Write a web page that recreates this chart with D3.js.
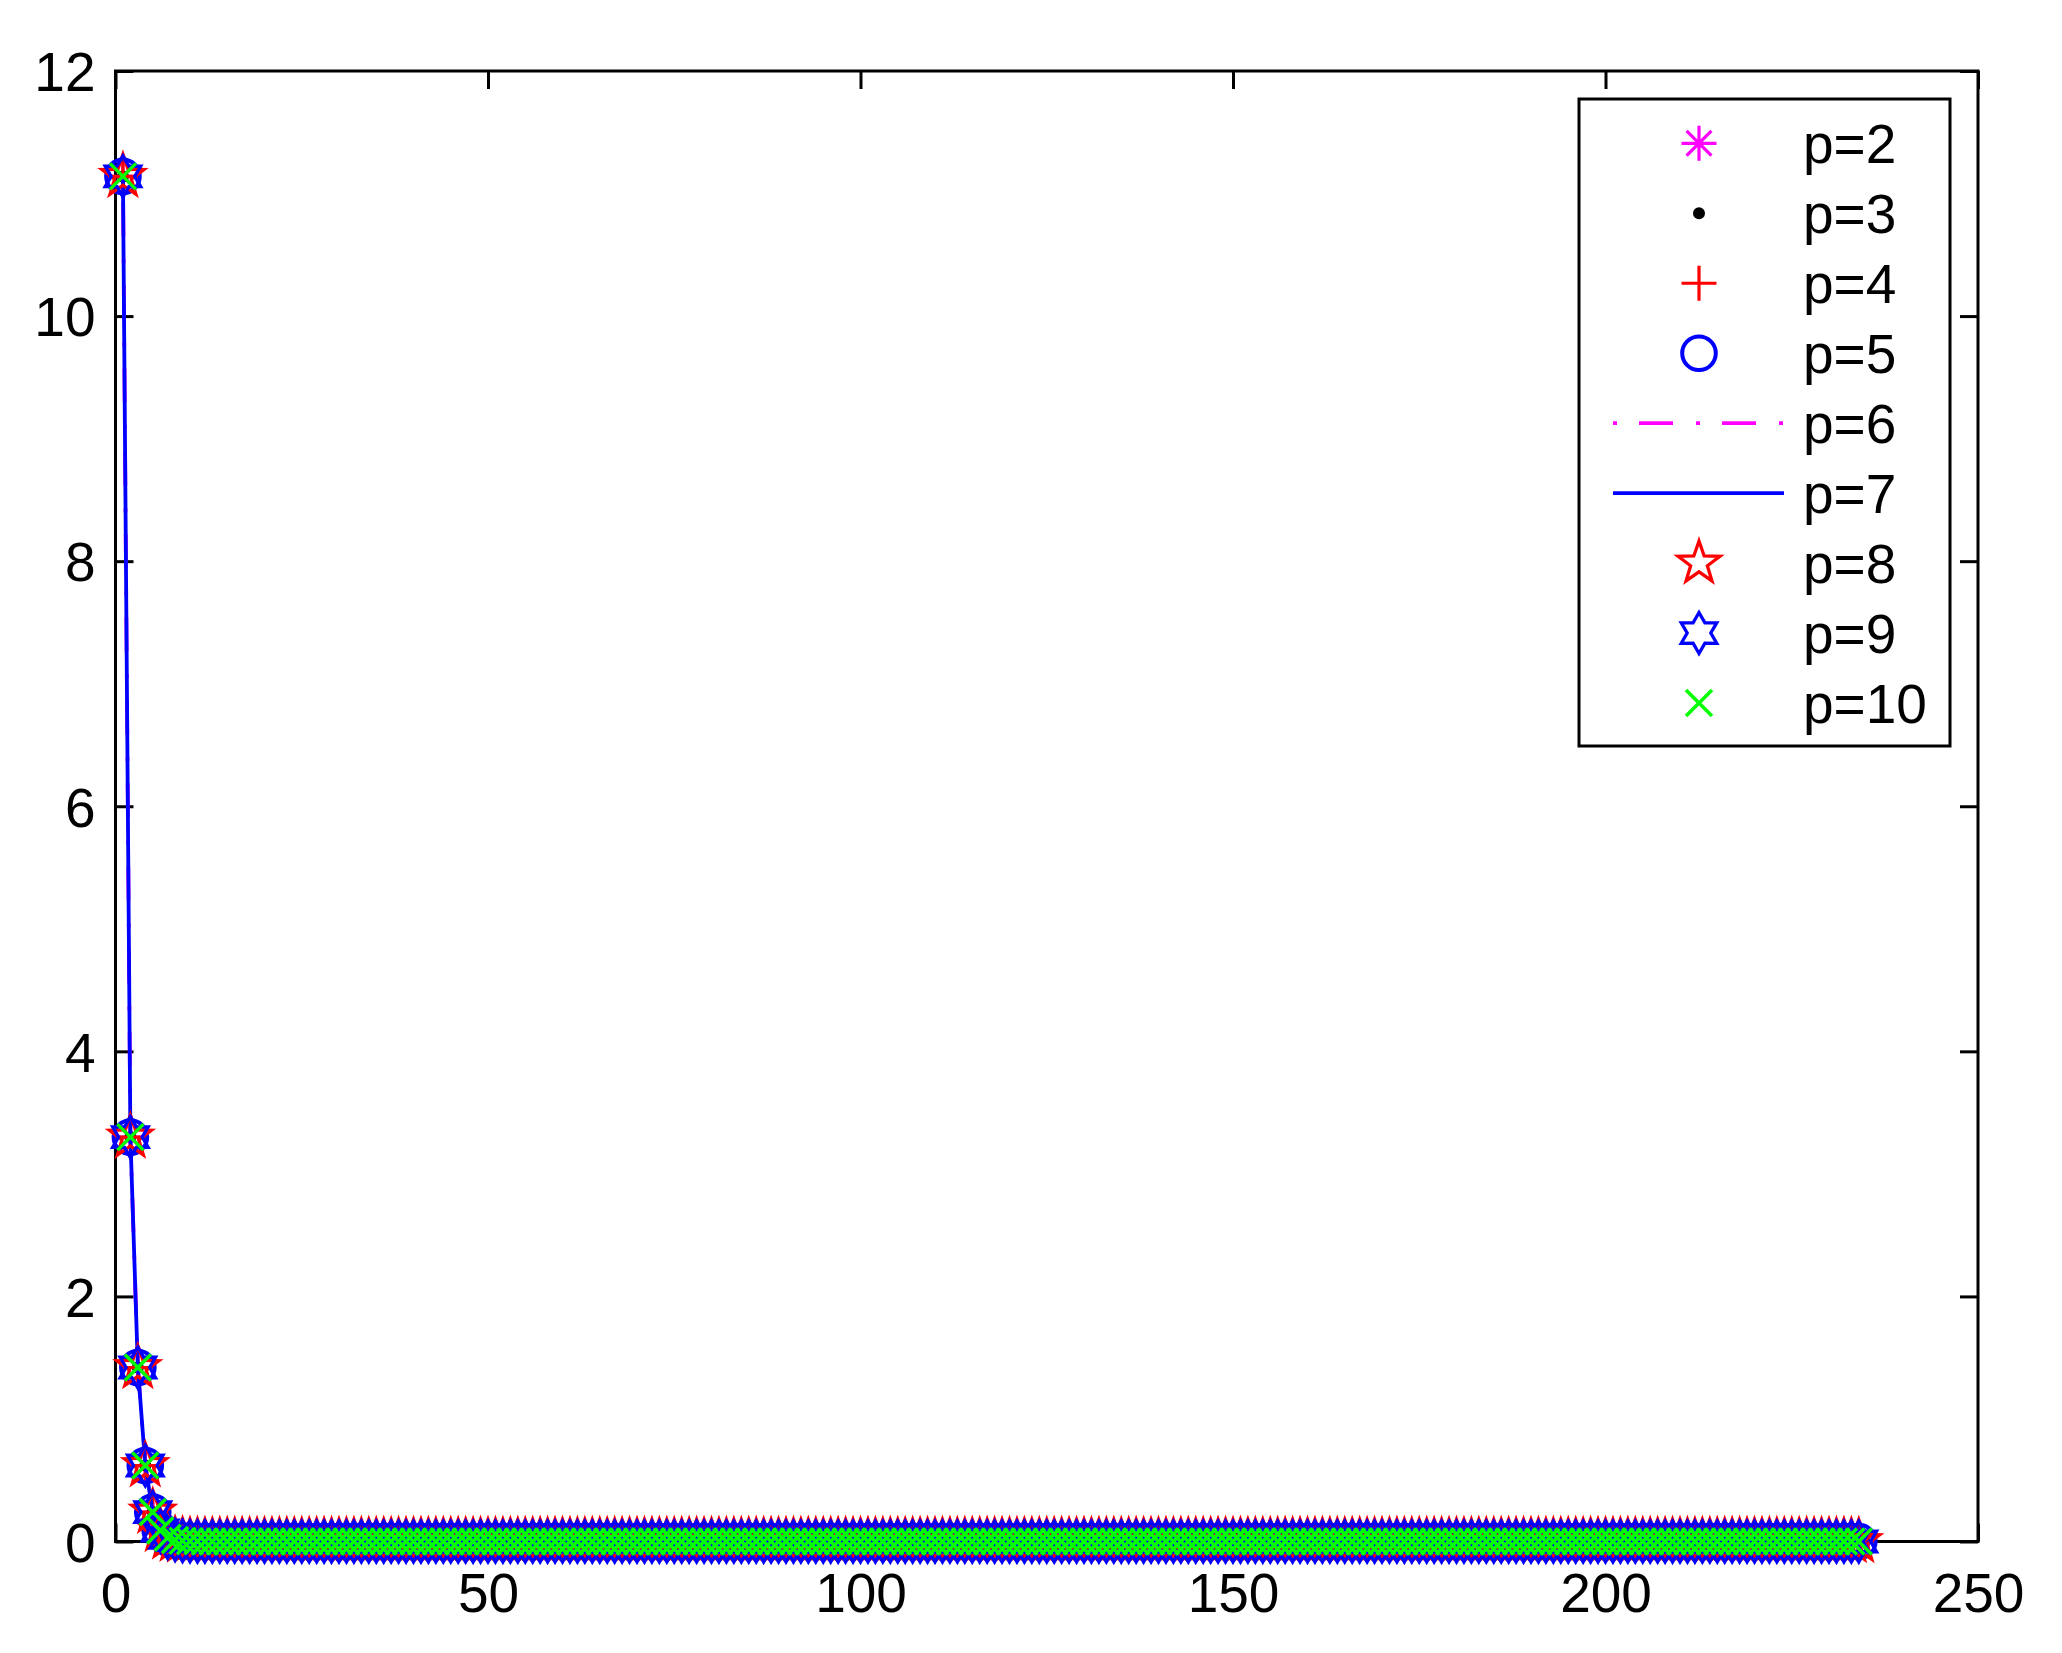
<!DOCTYPE html>
<html>
<head>
<meta charset="utf-8">
<script src="https://cdn.jsdelivr.net/npm/d3@7"></script>
<style>
  html, body { margin: 0; padding: 0; background: #fff; }
  svg { display: block; }
  text { font-family: "Liberation Sans", Arial, Helvetica, sans-serif; fill: #000; }
</style>
</head>
<body>
<svg id="chart" width="2062" height="1653"></svg>
<script>
// ---------------- data ----------------
const xTicks = [0, 50, 100, 150, 200, 250];
const yTicks = [0, 2, 4, 6, 8, 10, 12];
const seriesLabels = ["p=2", "p=3", "p=4", "p=5", "p=6", "p=7", "p=8", "p=9", "p=10"];

// error per iteration (iterations 1..234); all p-curves coincide visually
const residual = [
  11.14, 3.30, 1.42, 0.62, 0.24, 0.09, 0.03, 0.012, 0.005, 0.002, 0.001, 0.0005,
  0,0,0,0,0,0,0,0,0,0,0,0,0,0,0,0,0,0,0,0,
  0,0,0,0,0,0,0,0,0,0,0,0,0,0,0,0,0,0,0,0,
  0,0,0,0,0,0,0,0,0,0,0,0,0,0,0,0,0,0,0,0,
  0,0,0,0,0,0,0,0,0,0,0,0,0,0,0,0,0,0,0,0,
  0,0,0,0,0,0,0,0,0,0,0,0,0,0,0,0,0,0,0,0,
  0,0,0,0,0,0,0,0,0,0,0,0,0,0,0,0,0,0,0,0,
  0,0,0,0,0,0,0,0,0,0,0,0,0,0,0,0,0,0,0,0,
  0,0,0,0,0,0,0,0,0,0,0,0,0,0,0,0,0,0,0,0,
  0,0,0,0,0,0,0,0,0,0,0,0,0,0,0,0,0,0,0,0,
  0,0,0,0,0,0,0,0,0,0,0,0,0,0,0,0,0,0,0,0,
  0,0,0,0,0,0,0,0,0,0,0,0,0,0,0,0,0,0,0,0,
  0,0
];
const seriesValues = seriesLabels.map(() => residual);

// ---------------- styles ----------------
const MAG = "#ff00ff", BLUE = "#0000ff", RED = "#ff0000", GREEN = "#00ff00", BLACK = "#000000";
const styles = [
  { color: MAG,   marker: "asterisk", line: null },
  { color: BLACK, marker: "dot",      line: null },
  { color: RED,   marker: "plus",     line: null },
  { color: BLUE,  marker: "circle",   line: null },
  { color: MAG,   marker: null,       line: "4,22,34,23" },
  { color: BLUE,  marker: null,       line: "solid" },
  { color: RED,   marker: "pentagram", line: null },
  { color: BLUE,  marker: "hexagram", line: null },
  { color: GREEN, marker: "x",        line: null }
];

function starPath(n, R, r, rot) {
  const pts = [];
  for (let i = 0; i < 2 * n; i++) {
    const rad = i % 2 === 0 ? R : r;
    const a = rot + i * Math.PI / n;
    pts.push([rad * Math.cos(a), rad * Math.sin(a)]);
  }
  return "M" + pts.map(p => p[0].toFixed(2) + "," + p[1].toFixed(2)).join("L") + "Z";
}
const markerDefs = {
  asterisk: (() => { const r = 17.5, a = 12.4;
    return { d: `M${-r},0H${r}M0,${-r}V${r}M${-a},${-a}L${a},${a}M${-a},${a}L${a},${-a}`, fill: false, w: 3.2 }; })(),
  plus: (() => { const r = 17.5; return { d: `M${-r},0H${r}M0,${-r}V${r}`, fill: false, w: 3.2 }; })(),
  x: (() => { const a = 13; return { d: `M${-a},${-a}L${a},${a}M${-a},${a}L${a},${-a}`, fill: false, w: 3.5 }; })(),
  circle: { d: d3.arc()({ innerRadius: 0, outerRadius: 16.8, startAngle: 0, endAngle: 2 * Math.PI }), fill: false, w: 4 },
  dot: { d: d3.arc()({ innerRadius: 0, outerRadius: 6, startAngle: 0, endAngle: 2 * Math.PI }), fill: true, w: 0 },
  pentagram: { d: starPath(5, 22, 8.8, -Math.PI / 2), fill: false, w: 3.3 },
  hexagram: { d: starPath(6, 20.5, 11.8, -Math.PI / 2), fill: false, w: 3.3 }
};

// ---------------- layout ----------------
const svg = d3.select("#chart");
const X0 = 115.5, X1 = 1978, Y0 = 1541.5, Y1 = 71;
const x = d3.scaleLinear().domain([0, 250]).range([X0, X1]);
const y = d3.scaleLinear().domain([0, 12]).range([Y0, Y1]);
const FONT = 55;

function styleAxis(g) {
  g.select(".domain").remove();
  g.selectAll(".tick line").attr("stroke", "#000").attr("stroke-width", 3);
  g.selectAll(".tick text").attr("font-size", FONT).attr("font-family", "Liberation Sans, Arial, sans-serif").attr("fill", "#000");
}

svg.append("g").attr("transform", `translate(0,${Y0})`)
  .call(d3.axisBottom(x).tickValues(xTicks).tickSize(-18).tickPadding(31).tickFormat(d3.format("d")))
  .call(styleAxis);
svg.append("g").attr("transform", `translate(0,${Y1})`)
  .call(d3.axisTop(x).tickValues(xTicks).tickSize(-18).tickFormat(""))
  .call(styleAxis);
svg.append("g").attr("transform", `translate(${X0},0)`)
  .call(d3.axisLeft(y).tickValues(yTicks).tickSize(-18).tickPadding(20).tickFormat(d3.format("d")))
  .call(styleAxis)
  .selectAll(".tick text").attr("dy", "0.36em");
svg.append("g").attr("transform", `translate(${X1},0)`)
  .call(d3.axisRight(y).tickValues(yTicks).tickSize(-18).tickFormat(""))
  .call(styleAxis);

svg.append("rect").attr("x", X0).attr("y", Y1).attr("width", X1 - X0).attr("height", Y0 - Y1)
  .attr("fill", "none").attr("stroke", "#000").attr("stroke-width", 3);

// ---------------- series ----------------
const lineGen = d3.line().x((d, i) => x(i + 1)).y(d => y(d));
const plot = svg.append("g");

function drawMarker(sel, def, color) {
  sel.attr("d", def.d)
    .attr("fill", def.fill ? color : "none")
    .attr("stroke", color)
    .attr("stroke-width", def.w)
    .attr("stroke-linejoin", "miter");
}

seriesValues.forEach((vals, si) => {
  const st = styles[si];
  const g = plot.append("g");
  if (st.line) {
    g.append("path").datum(vals).attr("d", lineGen)
      .attr("fill", "none").attr("stroke", st.color).attr("stroke-width", 3.8)
      .attr("stroke-dasharray", st.line === "solid" ? null : st.line);
  }
  if (st.marker) {
    const def = markerDefs[st.marker];
    g.selectAll("path.m").data(vals).join("path").attr("class", "m")
      .attr("transform", (d, i) => `translate(${x(i + 1)},${y(d)})`)
      .call(drawMarker, def, st.color);
  }
});

// ---------------- legend ----------------
const LX0 = 1579, LY0 = 99, LX1 = 1950, LY1 = 746;
const leg = svg.append("g");
leg.append("rect").attr("x", LX0).attr("y", LY0).attr("width", LX1 - LX0).attr("height", LY1 - LY0)
  .attr("fill", "#fff").attr("stroke", "#000").attr("stroke-width", 3);
const rowY = d3.scaleLinear().domain([0, seriesLabels.length - 1]).range([143.3, 703]);
seriesLabels.forEach((lab, i) => {
  const st = styles[i];
  const cy = rowY(i);
  if (st.line) {
    leg.append("line").attr("x1", 1613).attr("x2", 1784).attr("y1", cy).attr("y2", cy)
      .attr("stroke", st.color).attr("stroke-width", 3.8)
      .attr("stroke-dasharray", st.line === "solid" ? null : st.line);
  }
  if (st.marker) {
    leg.append("path").attr("transform", `translate(1699,${cy})`)
      .call(drawMarker, markerDefs[st.marker], st.color);
  }
  leg.append("text").attr("x", 1803).attr("y", cy + 20).attr("font-size", FONT).text(lab);
});
</script>
</body>
</html>
